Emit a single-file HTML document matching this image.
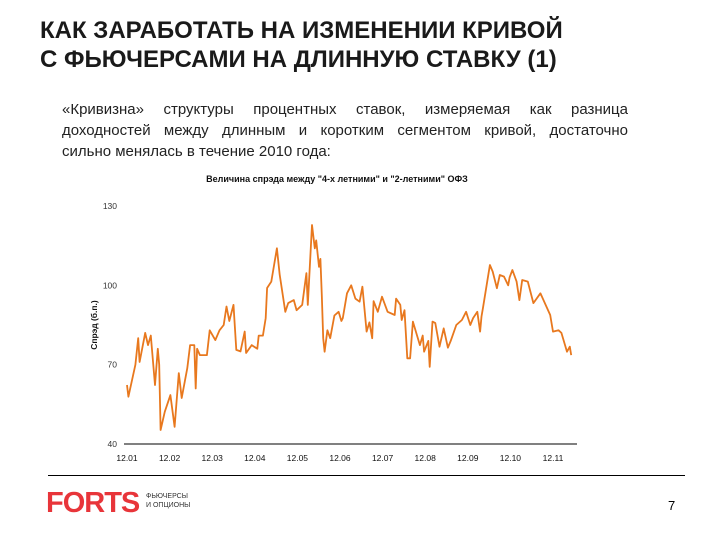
<!DOCTYPE html>
<html><head><meta charset="utf-8"><style>
body{margin:0;width:720px;height:540px;background:#fff;position:relative;overflow:hidden;font-family:"Liberation Sans",sans-serif;}
#title{position:absolute;left:40px;top:16px;font-size:24px;font-weight:bold;line-height:29px;color:#1a1a1a;white-space:nowrap;}
#para{position:absolute;left:62px;top:99px;width:566px;font-size:15px;line-height:21px;color:#222;}
#para div{text-align:justify;text-align-last:justify;white-space:nowrap;}
#para div.last{text-align-last:left;}
#footline{position:absolute;left:48px;top:475px;width:637px;height:1px;background:#000;}
#logo{position:absolute;left:46px;top:487px;font-size:29px;font-weight:bold;color:#e8353a;letter-spacing:-1px;}
#logosub{position:absolute;left:146px;top:492px;font-size:7px;line-height:9px;color:#333;}
#pnum{position:absolute;left:668px;top:498px;font-size:13px;color:#000;}
svg{position:absolute;left:0;top:0;}
</style></head><body>
<div id="title">КАК ЗАРАБОТАТЬ НА ИЗМЕНЕНИИ КРИВОЙ<br>С ФЬЮЧЕРСАМИ НА ДЛИННУЮ СТАВКУ (1)</div>
<div id="para"><div>«Кривизна» структуры процентных ставок, измеряемая как разница</div><div>доходностей между длинным и коротким сегментом кривой, достаточно</div><div class="last">сильно менялась в течение 2010 года:</div></div>
<svg id="chart" width="720" height="540"></svg>
<div id="footline"></div>
<div id="logo">FORTS</div>
<div id="logosub">ФЬЮЧЕРСЫ<br>И ОПЦИОНЫ</div>
<div id="pnum">7</div>
<script>
const days=[0,1,6,8,9,13,15,17,20,22,23,24,27,31,34,37,39,43,45,48,49,50,52,57,59,63,66,69,71,73,76,78,81,84,85,89,93,94,97,99,100,103,107,109,113,115,119,121,125,128,129,132,134,135,137,138,139,140,141,143,145,148,151,153,154,157,160,163,166,168,171,173,175,176,179,182,186,191,192,195,196,198,200,202,204,209,211,212,215,216,218,220,223,226,229,231,235,239,242,245,247,250,252,253,254,259,261,264,266,269,272,273,275,278,280,282,286,290,295,302,304,308,310,314,316,317,321];
const values=[62.3,57.9,70,80,71,82,77.4,81,62.3,76,70,45.3,52.2,58.5,46.5,66.8,57.4,68.7,77.4,77.4,61,76,73.6,73.6,83,79.3,83,85,92,86.5,92.6,75.6,75,82.5,74.4,77.4,76,81,81,87.6,99,101.4,114,104,90,93.3,94.4,90.6,92.6,104.6,92.6,122.8,114,117,107,110,96.3,80,74.9,83,80,88.6,90,86.5,87.6,97,100,95,93.8,99.5,82.5,86,80,94,90,95.7,90,88.8,95,92.6,86.9,90.6,72.4,72.4,86.3,77.4,81,74.9,79,69.2,86.3,85.7,76.8,83.7,76.4,79,85,86.9,90,85,87.6,90,82.5,88.2,91.3,107.7,105.2,98.9,103.9,103.3,100,103,105.8,101.4,94.4,102,101.4,93.3,97,88.8,82.5,83,82,74.9,76.8,73.6];
const yTicks=[40,70,100,130];
const xTickLabels=["12.01","12.02","12.03","12.04","12.05","12.06","12.07","12.08","12.09","12.10","12.11"];
const NS="http://www.w3.org/2000/svg";
const svg=document.getElementById('chart');
const X0=127,PX_PER_MONTH=42.6;
const xs=d=>X0+d/30.4*PX_PER_MONTH;
const ys=v=>444-(v-40)*(238/90);
function mk(tag,attrs,txt){const e=document.createElementNS(NS,tag);for(const k in attrs)e.setAttribute(k,attrs[k]);if(txt!==undefined)e.textContent=txt;svg.appendChild(e);return e;}
let t=mk('text',{x:337,y:182,'font-size':9,'font-weight':'bold','text-anchor':'middle',fill:'#111'},'Величина спрэда между "4-х летними" и "2-летними" ОФЗ');


t=mk('text',{x:0,y:0,'font-size':8.5,'font-weight':'bold','text-anchor':'middle',fill:'#111',transform:'translate(97,325) rotate(-90)'},'Спрэд (б.п.)');


yTicks.forEach(v=>{const e=mk('text',{x:117,y:ys(v)+3,'font-size':8.5,'text-anchor':'end',fill:'#333'},v);

});
xTickLabels.forEach((l,i)=>{const e=mk('text',{x:X0+i*PX_PER_MONTH,y:461,'font-size':8.5,'text-anchor':'middle',fill:'#111'},l);

});
const ax=mk('line',{x1:124,y1:444,x2:577,y2:444,stroke:'#000','stroke-width':1});


const pts=days.map((d,i)=>xs(d).toFixed(1)+','+ys(values[i]).toFixed(1)).join(' ');
const pl=mk('polyline',{points:pts,fill:'none',stroke:'#e8781e','stroke-width':1.8,'stroke-linejoin':'round'});


</script>
</body></html>
